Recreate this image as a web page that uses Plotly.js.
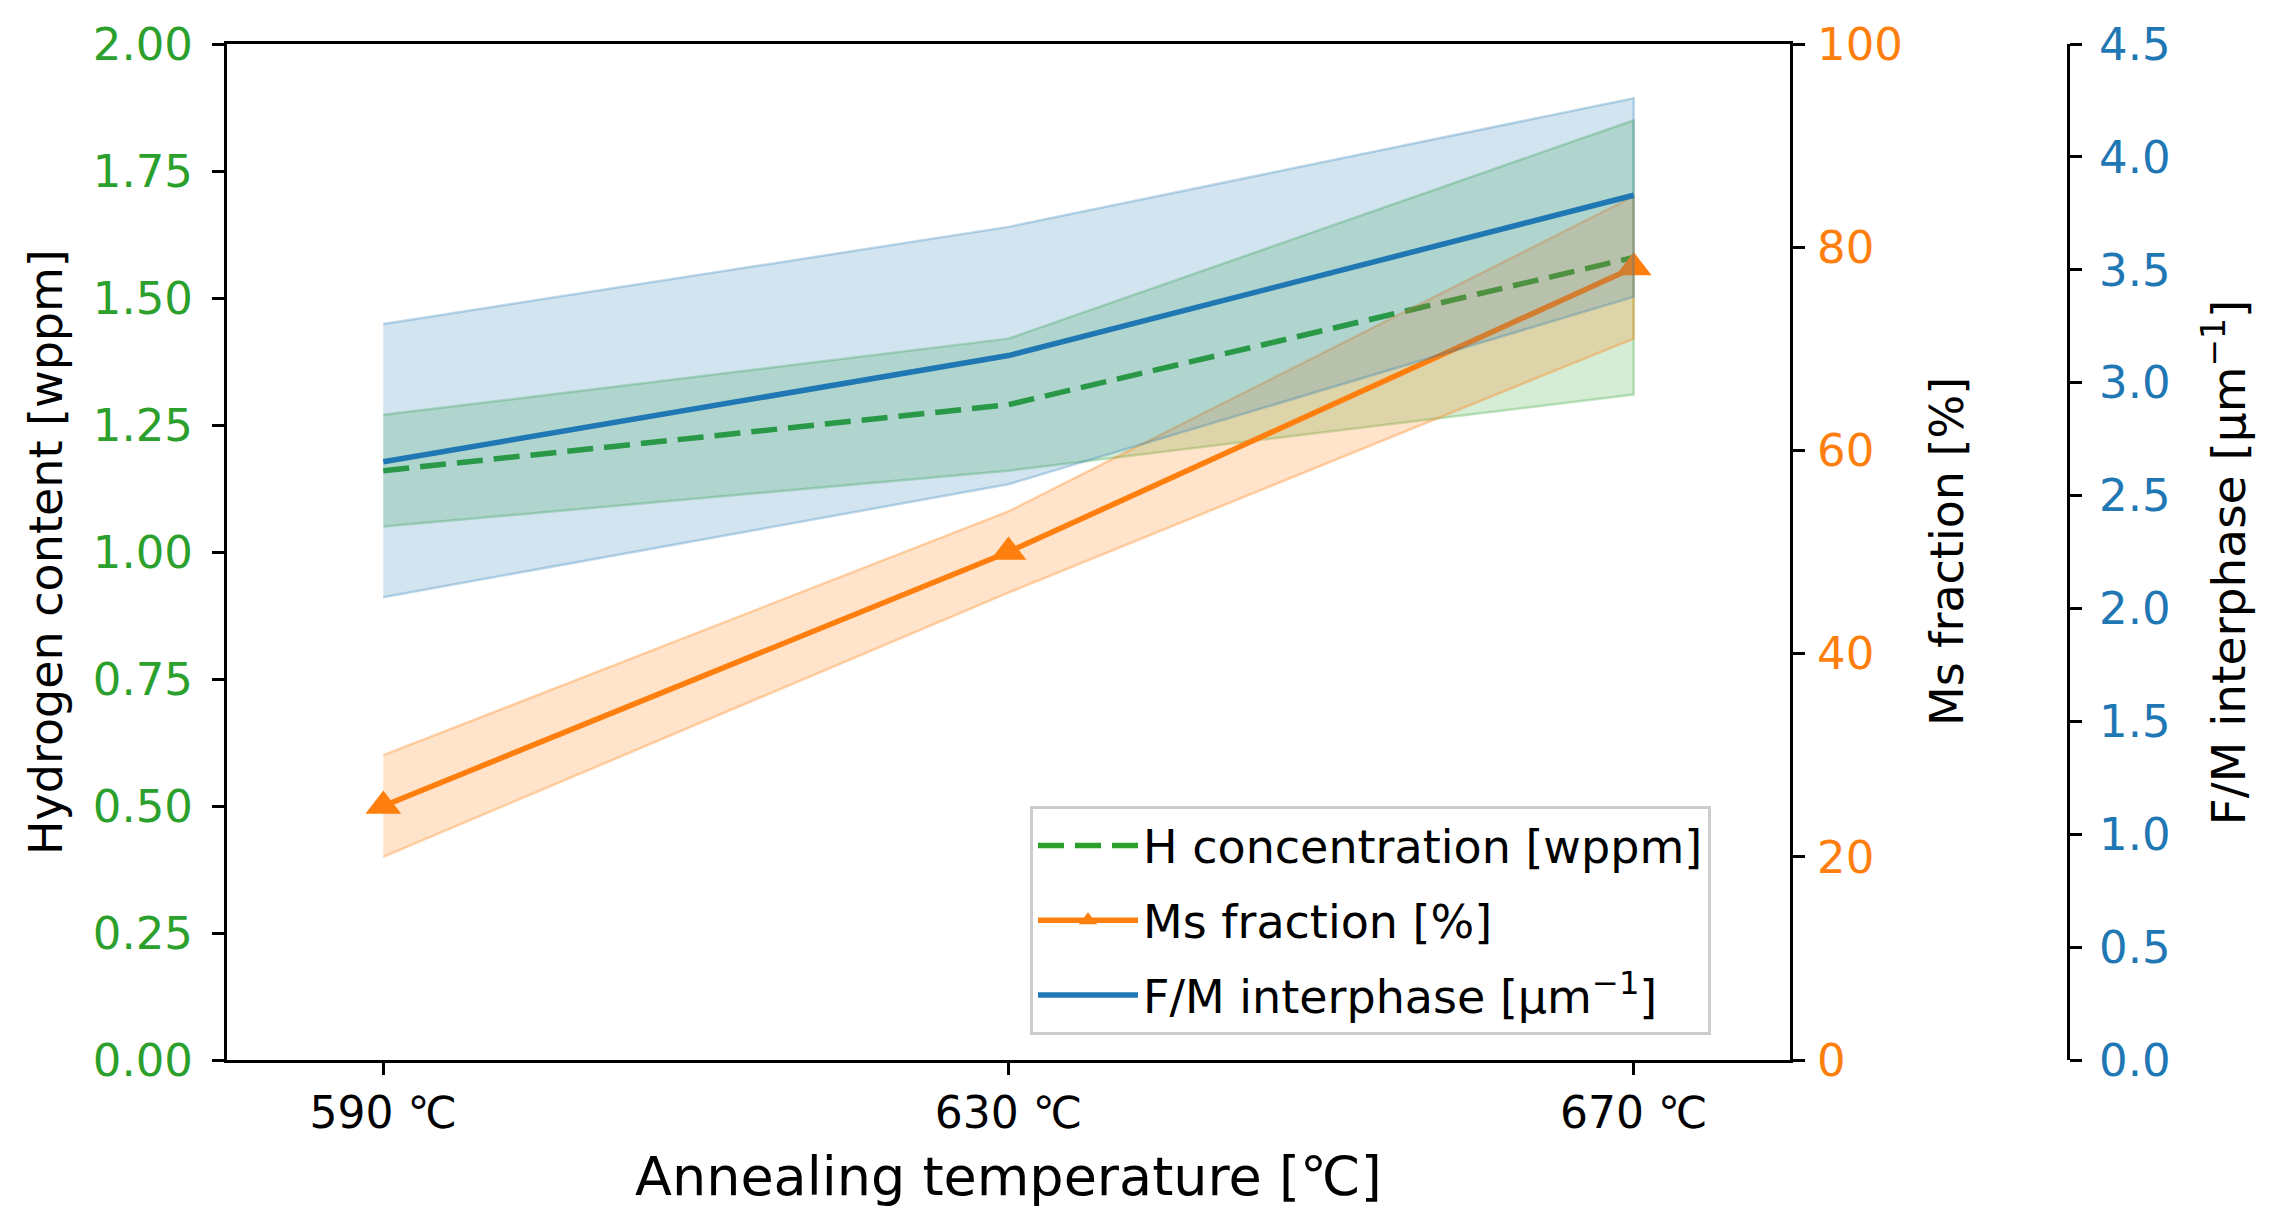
<html>
<head>
<script src="https://cdn.plot.ly/plotly-3.0.1.min.js"></script>
<style>
  body { margin: 0; background: #fff; }
  #chart { width: 2281px; height: 1224px; }
</style>
</head>
<body>
<div id="chart"></div>
<script>
// annealing temperatures and tick labels
const temps = [590, 630, 670];
const tempLabels = ['590 ℃', '630 ℃', '670 ℃'];

// hydrogen content [wppm], left axis
const hConc = [1.16, 1.29, 1.58];
const hUpper = [1.27, 1.42, 1.85];
const hLower = [1.05, 1.16, 1.31];

// Ms fraction [%], first right axis
const msFrac = [25, 50, 78];
const msUpper = [30, 54, 85];
const msLower = [20, 46, 71];

// F/M interphase [um^-1], second right axis
const fmInter = [2.65, 3.12, 3.83];
const fmUpper = [3.26, 3.69, 4.26];
const fmLower = [2.05, 2.55, 3.38];

const green = '#2ca02c', orange = '#ff7f0e', blue = '#1f77b4';
const W = 2281, H = 1224;
const plotL = 227, plotR = 1790, plotT = 44, plotB = 1060;
const font = 'DejaVu Sans, sans-serif';

// closed polygon for a shaded band
function band(upper, lower, yaxis, fill, edge) {
  return {
    x: temps.concat(temps.slice().reverse()),
    y: upper.concat(lower.slice().reverse()),
    yaxis: yaxis,
    type: 'scatter',
    mode: 'lines',
    fill: 'toself',
    fillcolor: fill,
    line: {color: edge, width: 2.5},
    showlegend: false,
    hoverinfo: 'skip'
  };
}

let data = [
  band(hUpper, hLower, 'y', 'rgba(44,160,44,0.2)', 'rgba(44,160,44,0.28)'),
  {
    x: temps, y: hConc, yaxis: 'y', type: 'scatter', mode: 'lines',
    line: {color: green, width: 5.5, dash: '26px,11px'},
    name: 'H concentration [wppm]', legendgroup: 'h'
  },
  band(msUpper, msLower, 'y2', 'rgba(255,127,14,0.22)', 'rgba(255,127,14,0.32)'),
  {
    x: temps, y: msFrac, yaxis: 'y2', type: 'scatter', mode: 'lines+markers',
    line: {color: orange, width: 5.5},
    marker: {symbol: 'triangle-up', size: 31, color: orange},
    name: 'Ms fraction [%]', legendgroup: 'ms'
  },
  band(fmUpper, fmLower, 'y3', 'rgba(31,119,180,0.2)', 'rgba(31,119,180,0.28)'),
  {
    x: temps, y: fmInter, yaxis: 'y3', type: 'scatter', mode: 'lines',
    line: {color: blue, width: 5.5},
    name: 'F/M interphase [μm<sup>−1</sup>]', legendgroup: 'fm'
  }
];

const py = v => (plotB - v) / (plotB - plotT);

const axisCommon = {
  showgrid: false, zeroline: false, showline: true,
  linecolor: 'black', linewidth: 3,
  ticks: 'outside', ticklen: 12, tickwidth: 3, tickcolor: 'black'
};

let layout = {
  width: W, height: H,
  margin: {l: 0, r: 0, t: plotT, b: H - plotB},
  paper_bgcolor: 'white', plot_bgcolor: 'white',
  font: {family: font, color: 'black', size: 44},
  showlegend: true,
  xaxis: Object.assign({}, axisCommon, {
    domain: [plotL / W, plotR / W],
    range: [580, 680],
    tickvals: temps, ticktext: tempLabels,
    tickfont: {size: 44, color: 'black'},
    mirror: true
  }),
  yaxis: Object.assign({}, axisCommon, {
    range: [0, 2], dtick: 0.25, tickformat: '.2f',
    tickfont: {size: 45, color: green},
    ticklabelstandoff: 10
  }),
  yaxis2: Object.assign({}, axisCommon, {
    overlaying: 'y', side: 'right', anchor: 'x',
    range: [0, 100], dtick: 20,
    tickfont: {size: 45, color: orange},
    ticklabelstandoff: 3
  }),
  yaxis3: Object.assign({}, axisCommon, {
    overlaying: 'y', side: 'right', anchor: 'free', position: 2068 / W,
    range: [0, 4.5], dtick: 0.5, tickformat: '.1f',
    tickfont: {size: 45, color: blue},
    ticklabelstandoff: 8
  }),
  legend: {
    x: 1030 / W, y: py(806), xanchor: 'left', yanchor: 'top',
    bgcolor: 'rgba(255,255,255,0.8)', bordercolor: '#cccccc', borderwidth: 3,
    font: {size: 46, color: 'black'},
    itemwidth: 100, tracegroupgap: 12
  },
  annotations: [
    {text: 'Hydrogen content [wppm]', xref: 'paper', yref: 'paper',
     x: 46 / W, y: 0.5, textangle: -90, showarrow: false,
     xanchor: 'center', yanchor: 'middle', font: {size: 46}},
    {text: 'Ms fraction [%]', xref: 'paper', yref: 'paper',
     x: 1947 / W, y: 0.5, textangle: -90, showarrow: false,
     xanchor: 'center', yanchor: 'middle', font: {size: 46}},
    {text: 'F/M interphase [μm<sup>−1</sup>]', xref: 'paper', yref: 'paper',
     x: 2225 / W, y: 0.49, textangle: -90, showarrow: false,
     xanchor: 'center', yanchor: 'middle', font: {size: 47}},
    {text: 'Annealing temperature [℃]', xref: 'paper', yref: 'paper',
     x: (plotL + plotR) / 2 / W, y: py(1176), showarrow: false,
     xanchor: 'center', yanchor: 'middle', font: {size: 54}}
  ]
};

let config = {staticPlot: true};

Plotly.newPlot('chart', data, layout, config);
</script>
</body>
</html>
